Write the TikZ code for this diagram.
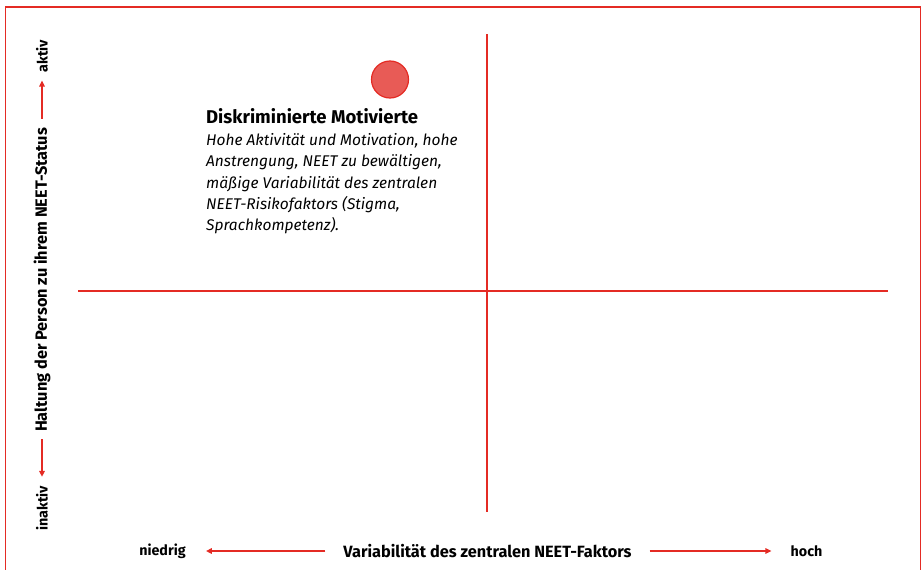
\documentclass[tikz,border=0pt]{standalone}
\usepackage{fontspec}
\setmainfont{Fira Sans}
\definecolor{neetred}{HTML}{E42B24}
\definecolor{neetfill}{HTML}{E85B56}
\usepackage{tikz}
\usetikzlibrary{arrows.meta,positioning}

\begin{document}
\begin{tikzpicture}[
    x=1pt, y=-1pt,
    axis/.style={draw=neetred, line width=2pt},
    arr/.style={-{Triangle[length=6pt,width=5.5pt]}, neetred, line width=1.4pt},
    axlbl/.style={font=\fontsize{16.3}{19}\selectfont\bfseries, inner sep=0pt},
    endlbl/.style={font=\fontsize{14.3}{17}\selectfont\bfseries, inner sep=0pt},
    ttl/.style={font=\fontsize{18.5}{22}\selectfont\bfseries, inner sep=0pt, anchor=base west},
    desc/.style={font=\fontsize{15.5}{21.2}\selectfont\itshape, align=left, inner sep=0pt, anchor=north west},
    dot/.style={circle, draw=neetred, fill=neetfill, line width=1.2pt, minimum size=37pt, inner sep=0pt},
  ]
  \useasboundingbox (0,0) rectangle (922,570);

  % Frame
  \draw[neetred, line width=1.4pt] (5.5,580) -- (5.5,7) -- (920.5,7) -- (920.5,580);

  % Quadrant axes
  \coordinate (vtop) at (486.5,34);
  \coordinate (vbot) at (486.5,512);
  \coordinate (hleft) at (78,291);
  \coordinate (hright) at (888,291);
  \draw[axis] (vtop) -- (vbot);
  \draw[axis] (hleft) -- (hright);

  % Quadrant entry
  \node[dot] (dm) at (390,79.5) {};
  \node[ttl] (dmtitle) at (206,123.5) {Diskriminierte Motivierte};
  \node[desc] (dmtext) at (206,133.5) {Hohe Aktivität und Motivation, hohe\\
    Anstrengung, NEET zu bewältigen,\\
    mäßige Variabilität des zentralen\\
    NEET-Risikofaktors (Stigma,\\
    Sprachkompetenz).};

  % Horizontal axis labels
  \node[axlbl] (xlab) at (487.5,551) {Variabilität des zentralen NEET-Faktors};
  \node[endlbl] (lo) at (162.5,551) {niedrig};
  \node[endlbl] (hi) at (806.5,551) {hoch};
  \draw[arr, shorten <=18pt, shorten >=20pt] (xlab.west) -- (lo.east);
  \draw[arr, shorten <=18pt, shorten >=19pt] (xlab.east) -- (hi.west);

  % Vertical axis labels
  \node[axlbl, rotate=90] (ylab) at (42,280) {Haltung der Person zu ihrem NEET-Status};
  \node[endlbl, rotate=90] (up) at (42,56) {aktiv};
  \node[endlbl, rotate=90] (down) at (42,508.5) {inaktiv};
  \draw[arr, shorten <=9pt, shorten >=8pt] (ylab.east) -- (up.west);
  \draw[arr, shorten <=7pt, shorten >=9pt] (ylab.west) -- (down.east);
\end{tikzpicture}
\end{document}
